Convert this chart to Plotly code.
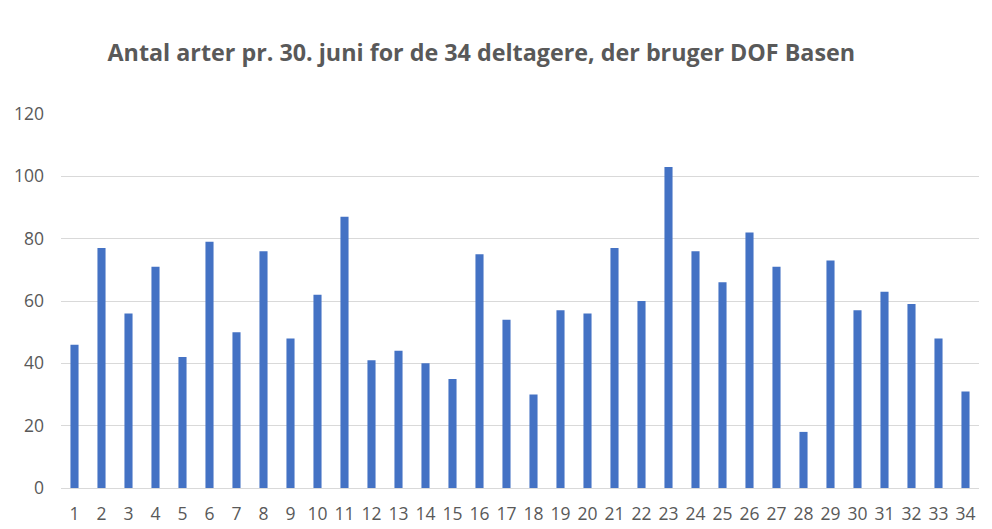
import plotly.graph_objects as go

participants = [str(i) for i in range(1, 35)]
species = [46, 77, 56, 71, 42, 79, 50, 76, 48, 62, 87, 41, 44, 40, 35, 75, 54, 30,
           57, 56, 77, 60, 103, 76, 66, 82, 71, 18, 73, 57, 63, 59, 48, 31]
title_text = "Antal arter pr. 30. juni for de 34 deltagere, der bruger DOF Basen"
y_ticks = [0, 20, 40, 60, 80, 100, 120]

fig = go.Figure(go.Bar(
    x=participants, y=species,
    marker=dict(color="#4472C4", line=dict(width=0)),
    width=0.3,
))

fig.update_layout(
    width=984, height=521,
    paper_bgcolor="white", plot_bgcolor="white",
    margin=dict(l=53, r=13, t=106, b=41),
    title=dict(text=title_text, x=0.481, xanchor="center", y=0.913, yanchor="middle",
               font=dict(family="Open Sans", size=23.3, color="#595959", weight="bold")),
    font=dict(family="Open Sans", color="#595959"),
    showlegend=False,
    bargap=0.7,
)
fig.update_xaxes(type="category", showgrid=False, showline=False, ticks="",
                 tickfont=dict(size=17.5, color="#595959"), ticklabelstandoff=13,
                 automargin=False)
fig.update_yaxes(range=[0, 120], tickvals=y_ticks, showgrid=True, gridcolor="#D9D9D9",
                 gridwidth=1.3, zeroline=True, zerolinecolor="#D9D9D9", zerolinewidth=1.3,
                 showline=False, ticks="", tickfont=dict(size=17.5, color="#595959"),
                 ticklabelstandoff=16, automargin=False)

fig.write_html("out.html")
